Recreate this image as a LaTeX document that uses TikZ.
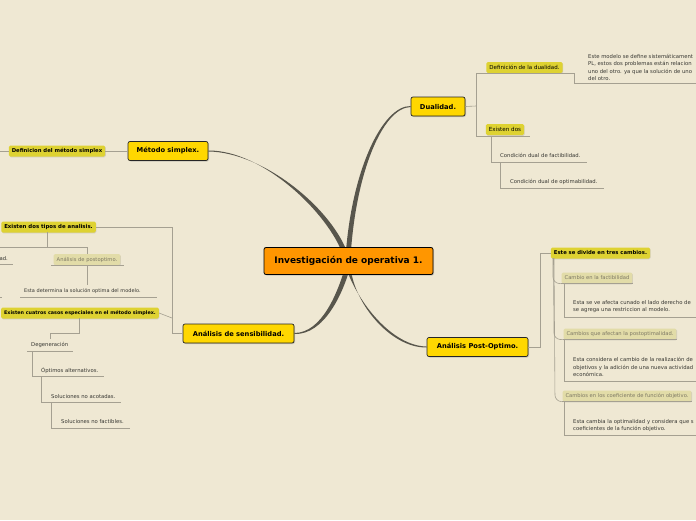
\documentclass[tikz,border=0pt]{standalone}
\usepackage{fontspec}
\setmainfont{DejaVu Sans}
\usetikzlibrary{shadows,calc}
\definecolor{bg}{RGB}{239,232,211}
\definecolor{mainY}{RGB}{255,215,0}
\definecolor{rootO}{RGB}{255,150,0}
\definecolor{subY}{RGB}{222,210,50}
\definecolor{paleY}{RGB}{226,220,168}
\definecolor{paleT}{RGB}{125,120,100}
\definecolor{lineG}{RGB}{165,160,145}
\definecolor{trunk}{RGB}{88,86,76}
\definecolor{txt}{RGB}{55,55,50}
\tikzset{
  rootnode/.style={draw=black, line width=0.8pt, fill=rootO, rounded corners=2pt,
    font=\bfseries\fontsize{9}{10}\selectfont, minimum width=169pt, minimum height=27pt,
    drop shadow={shadow xshift=1pt, shadow yshift=-1pt, opacity=0.35}},
  mainnode/.style={draw=black!85, line width=0.7pt, fill=mainY, rounded corners=2pt,
    font=\bfseries\fontsize{6.7}{7.5}\selectfont, minimum height=19pt, inner xsep=0pt,
    drop shadow={shadow xshift=1pt, shadow yshift=-1pt, opacity=0.35}},
  subnode/.style={fill=subY, rounded corners=1.5pt, minimum height=11pt, inner xsep=3pt, inner ysep=0pt,
    text=black, drop shadow={shadow xshift=0.6pt, shadow yshift=-0.8pt, opacity=0.25}},
  palenode/.style={fill=paleY, rounded corners=1.5pt, minimum height=11pt, inner xsep=3pt, inner ysep=0pt,
    text=paleT, font=\fontsize{5.2}{6}\selectfont,
    drop shadow={shadow xshift=0.6pt, shadow yshift=-0.8pt, opacity=0.25}},
  leaf/.style={font=\fontsize{5.3}{7.3}\selectfont, text=txt, anchor=west, inner sep=0pt, align=left},
  conn/.style={draw=lineG, line width=0.6pt},
}
\begin{document}
\begin{tikzpicture}[x=1pt,y=-1pt]
\fill[bg] (0,0) rectangle (696,520);
\useasboundingbox (0,0) rectangle (696,520);
\clip (0,0) rectangle (696,520);

% main nodes
\node[mainnode, minimum width=54pt] (dual) at (438,106.5) {Dualidad.};
\node[mainnode, minimum width=80pt] (simplex) at (168,151) {Método simplex.};
\node[mainnode, minimum width=111pt] (sens) at (238.5,333.5) {Análisis de sensibilidad.};
\node[mainnode, minimum width=101pt] (post) at (477.5,347) {Análisis Post-Optimo.};

% tapered trunks
\fill[trunk] (345.5,258) .. controls (351,172) and (382,105.6) .. ([yshift=0.5pt]dual.west)
  -- ([yshift=-0.5pt]dual.west) .. controls (383,107.5) and (355.5,172) .. (350.5,258) -- cycle;
\fill[trunk] ([yshift=0.5pt]simplex.east) .. controls (262,150) and (328,212) .. (343.5,256)
  -- (348.5,256) .. controls (334,210) and (264,152) .. ([yshift=-0.5pt]simplex.east) -- cycle;
\fill[trunk] ([yshift=0.5pt]sens.east) .. controls (322,333) and (338,292) .. (345.5,266)
  -- (350.5,266) .. controls (343,294) and (324,335) .. ([yshift=-0.5pt]sens.east) -- cycle;
\fill[trunk] (345.5,266) .. controls (357,302) and (392,346) .. ([yshift=0.5pt]post.west)
  -- ([yshift=-0.5pt]post.west) .. controls (390,348) and (353,302) .. (350.5,266) -- cycle;

\node[rootnode] (root) at (348.5,261) {Investigación de operativa 1.};

% ---------- Dualidad branch
\node[subnode, font=\fontsize{5.5}{6}\selectfont] (defdual) at (524.5,67.5) {Definición de la dualidad.};
\node[subnode, font=\fontsize{5.6}{6}\selectfont] (exdos) at (505,129.5) {Existen dos};
\coordinate (dj) at (476,106);
\draw[conn] (dual.east) -- (dj);
\draw[conn] (476,73) -- (476,136);
\draw[conn] (476,73) -- (574,73) -- (574,83) -- (696,83);
\node[leaf] (deftext) at (588,67.5) {Este modelo se define sistemáticament\\PL, estos dos problemas están relacion\\uno del otro. ya que la solución de uno\\del otro.};
\draw[conn] (476,136) -- (530,136);
\node[leaf] (cfact) at (500,155.5) {Condición dual de factibilidad.};
\draw[conn] (491,136) -- (491,162) -- (587,162);
\node[leaf] (copt) at (510,181.5) {Condición dual de optimabilidad.};
\draw[conn] (500,162) -- (500,188) -- (604,188);

% ---------- Metodo simplex branch
\node[subnode, font=\bfseries\fontsize{5.3}{6}\selectfont] (defsim) at (57,151) {Definicion del método simplex};
\draw[conn] (simplex.west) -- (defsim.east);
\draw[conn] (defsim.west) -- (0,151);

% ---------- Sensibilidad branch
\node[subnode, font=\bfseries\fontsize{5.4}{6}\selectfont, anchor=east] (tipos) at (96,227) {Existen dos tipos de analisis.};
\node[subnode, font=\bfseries\fontsize{4.85}{6}\selectfont, anchor=east] (casos) at (159,313) {Existen cuatros casos especiales en el método simplex.};
\draw[conn] (tipos.east) -- (172,227) -- (172,333.5) -- (sens.west);
\draw[conn] (casos.east) -- (172,318);
% tipos children
\draw[conn] (47,232) -- (47,247);
\draw[conn] (0,247) -- (87,247) -- (87,254);
\node[palenode] (postop) at (87,259.5) {Análisis de postoptimo.};
\draw[conn] (51,265) -- (124,265);
\node[leaf, anchor=east] (sensad) at (8,258.5) {ad.};
\draw[conn] (0,264.5) -- (13,264.5);
\draw[conn] (87,265) -- (87,285);
\node[leaf, font=\fontsize{5}{7}\selectfont] (determ) at (24,291) {Esta determina la solución optima del modelo.};
\draw[conn] (20,297) -- (157,297);
\draw[conn] (0,297) -- (2,297);
% casos children
\draw[conn] (79,318) -- (79,333) -- (50,333) -- (50,339);
\node[leaf] (degen) at (31,345) {Degeneración};
\draw[conn] (27,351) -- (73,351);
\node[leaf] (optal) at (41,371) {Óptimos alternativos.};
\draw[conn] (32,351) -- (32,376) -- (104,376);
\node[leaf] (noacot) at (51,397) {Soluciones no acotadas.};
\draw[conn] (41,376) -- (41,402) -- (121,402);
\node[leaf] (nofact) at (61,422) {Soluciones no factibles.};
\draw[conn] (51,402) -- (51,428) -- (130,428);

% ---------- Post-Optimo branch
\node[subnode, font=\bfseries\fontsize{5.3}{6}\selectfont] (divide) at (600.5,253) {Este se divide en tres cambios.};
\draw[conn] (post.east) -- (540,347) -- (540,253) -- (divide.west);
\node[palenode] (cfac) at (597,278) {Cambio en la factibilidad};
\node[palenode] (cpost) at (620,334) {Cambios que afectan la postoptimalidad.};
\node[palenode] (ccoef) at (627,396) {Cambios en los coeficiente de función objetivo.};
\draw[conn, rounded corners=6pt] (553,258) -- (553,283) -- (cfac.south west);
\draw[conn, rounded corners=6pt] (553.5,258) -- (554,339) -- (cpost.south west);
\draw[conn, rounded corners=6pt] (554,258) -- (555,401) -- (ccoef.south west);
\draw[conn] (cfac.south west) -- (cfac.south east);
\draw[conn] (cpost.south west) -- (cpost.south east);
\draw[conn] (ccoef.south west) -- (ccoef.south east);
\node[leaf] (t1) at (573,306.8) {Esta se ve afecta cunado el lado derecho de\\se agrega una restriccion al modelo.};
\draw[conn] (564,283) -- (564,317) -- (696,317);
\node[leaf] (t2) at (573,367) {Esta considera el cambio de la realización de\\objetivos y la adición de una nueva actividad\\económica.};
\draw[conn] (564,339) -- (564,381) -- (696,381);
\node[leaf] (t3) at (573,425.3) {Esta cambia la optimalidad y considera que s\\coeficientes de la función objetivo.};
\draw[conn] (564,401) -- (564,435) -- (696,435);
\end{tikzpicture}
\end{document}
